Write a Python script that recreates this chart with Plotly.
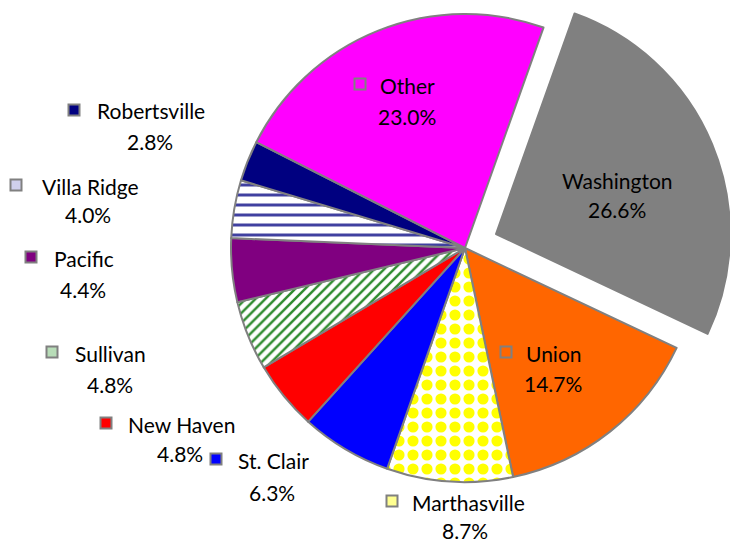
import plotly.graph_objects as go

# ---- data ----
labels = ["Washington", "Union", "Marthasville", "St. Clair", "New Haven",
          "Sullivan", "Pacific", "Villa Ridge", "Robertsville", "Other"]
shares = [26.6, 14.7, 8.7, 6.3, 4.8, 4.8, 4.4, 4.0, 2.8, 23.0]
colors = ["#808080", "#FF6600", "#FFFF00", "#0000FF", "#FF0000",
          "#2E8B2E", "#800080", "#4040A0", "#000080", "#FF00FF"]
patterns = ["", "", ".", "", "", "/", "", "-", "", ""]
pattern_sizes = [8, 8, 14, 8, 8, 7, 8, 10, 8, 8]
pattern_solidity = [0.5, 0.5, 0.5, 0.5, 0.5, 0.35, 0.5, 0.3, 0.5, 0.5]
key_colors = [None, "#FF6600", "#FFFF90", "#0000FF", "#FF0000",
              "#B8DDB8", "#800080", "#D0D0EC", "#000080", "#FF00FF"]

W, H = 730, 546
TRANSP = "rgba(0,0,0,0)"
EDGE = "#808080"

def px(x):
    return x / W

def py(y):
    return 1 - y / H

# pie geometry (pixels)
R = 234
cx, cy = 465, 248          # main pie centre
ex, ey = 496, 234          # exploded slice centre

def dom(cx_, cy_):
    return dict(x=[px(cx_ - R), px(cx_ + R)], y=[py(cy_ + R), py(cy_ - R)])

n = len(labels)
explode = 0  # index of exploded slice

main_colors = [TRANSP if i == explode else c for i, c in enumerate(colors)]
main_lw = [0 if i == explode else 2 for i in range(n)]
expl_colors = [c if i == explode else TRANSP for i, c in enumerate(colors)]
expl_lw = [2 if i == explode else 0 for i in range(n)]

fig = go.Figure()
fig.add_trace(go.Pie(
    labels=labels, values=shares, sort=False, direction="clockwise",
    rotation=19.6, textinfo="none", showlegend=False, domain=dom(cx, cy),
    marker=dict(colors=main_colors,
                line=dict(color=EDGE, width=main_lw),
                pattern=dict(shape=patterns, fillmode="replace",
                             fgcolor=main_colors, bgcolor=["white"] * n,
                             size=pattern_sizes, solidity=pattern_solidity)),
))
fig.add_trace(go.Pie(
    labels=labels, values=shares, sort=False, direction="clockwise",
    rotation=19.6, textinfo="none", showlegend=False, domain=dom(ex, ey),
    hoverinfo="skip",
    marker=dict(colors=expl_colors, line=dict(color=EDGE, width=expl_lw)),
))

# label layout: (key square x, label row y, label text x, pct centre x, pct row y)
label_pos = {
    "Washington":   (None, 181, 617, 617, 210),
    "Union":        (506, 353, 524, 553, 383),
    "Marthasville": (392, 502, 410, 465, 530),
    "St. Clair":    (216, 460, 236, 272, 492),
    "New Haven":    (106, 424, 126, 180, 453),
    "Sullivan":     (52, 353, 73, 110, 384),
    "Pacific":      (31, 258, 52, 83, 289),
    "Villa Ridge":  (16, 186, 40, 88, 215),
    "Robertsville": (74, 111, 95, 150, 142),
    "Other":        (360, 85, 378, 407, 116),
}

FONT = dict(family="Lato, 'Open Sans', sans-serif", size=21, color="black")
annotations = []
shapes = []
for i, lab in enumerate(labels):
    kx, ly, tx, pcx, pcy = label_pos[lab]
    pct = f"{shares[i]:.1f}%"
    if kx is None:
        annotations.append(dict(x=px(tx), y=py(ly), xref="paper", yref="paper",
                                text=lab, showarrow=False, font=FONT,
                                xanchor="center", yanchor="middle"))
    else:
        annotations.append(dict(x=px(tx), y=py(ly), xref="paper", yref="paper",
                                text=lab, showarrow=False, font=FONT,
                                xanchor="left", yanchor="middle"))
        s = 5.5
        shapes.append(dict(type="rect", xref="paper", yref="paper",
                           x0=px(kx - s), x1=px(kx + s),
                           y0=py(ly - 1 + s), y1=py(ly - 1 - s),
                           fillcolor=key_colors[i],
                           line=dict(color=EDGE, width=2)))
    annotations.append(dict(x=px(pcx), y=py(pcy), xref="paper", yref="paper",
                            text=pct, showarrow=False, font=FONT,
                            xanchor="center", yanchor="middle"))

fig.update_layout(
    width=W, height=H,
    margin=dict(l=0, r=0, t=0, b=0),
    paper_bgcolor="white", plot_bgcolor="white",
    annotations=annotations, shapes=shapes,
)

fig.write_html("out.html",
               config={"displayModeBar": False},
               post_script="document.body.style.margin='0';"
                           "document.body.style.overflow='hidden';")
